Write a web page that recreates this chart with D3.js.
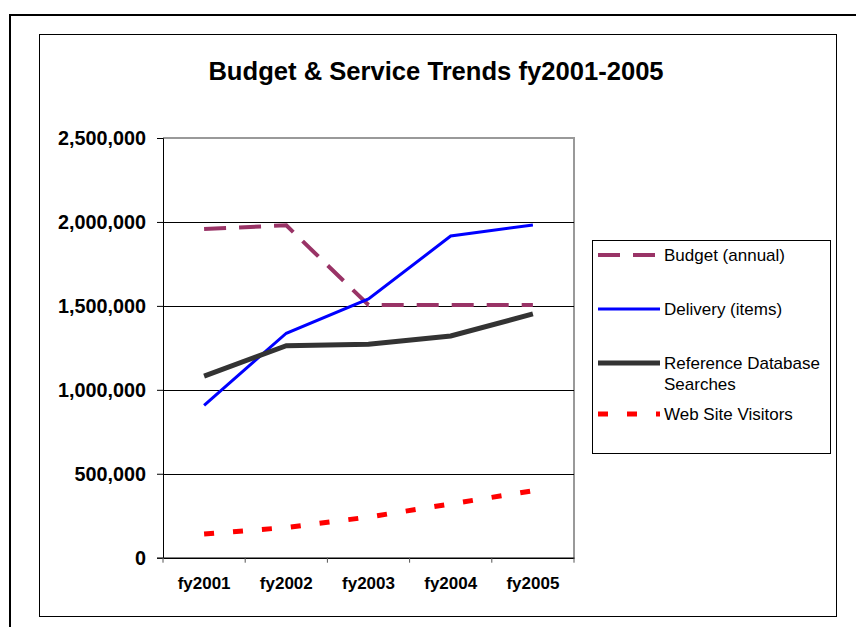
<!DOCTYPE html>
<html>
<head>
<meta charset="utf-8">
<script src="https://cdn.jsdelivr.net/npm/d3@7"></script>
<style>
  body { margin: 0; background: #fff; }
  svg { display: block; font-family: Arial, "Liberation Sans", sans-serif; }
</style>
</head>
<body>
<div id="chart"></div>
<script>
// data
const years = ["fy2001", "fy2002", "fy2003", "fy2004", "fy2005"];
const budget = [1958000, 1980000, 1505000, 1505000, 1505000];
const delivery = [908000, 1337000, 1541000, 1916000, 1982000];
const refSearches = [1082000, 1263000, 1271000, 1321000, 1452000];
const webVisitors = [141000, 180000, 242000, 320000, 399000];
const yTicks = [0, 500000, 1000000, 1500000, 2000000, 2500000];

const series = [
  { name: ["Budget (annual)"], values: budget, color: "#993366", width: 4, dash: "22,13" },
  { name: ["Delivery (items)"], values: delivery, color: "#0000ff", width: 3, dash: null },
  { name: ["Reference Database", "Searches"], values: refSearches, color: "#333333", width: 5, dash: null },
  { name: ["Web Site Visitors"], values: webVisitors, color: "#ff0000", width: 5, dash: "10,19" }
];

const W = 856, H = 627;
const plot = { left: 163, right: 574, top: 138, bottom: 557.7 };

const svg = d3.select("#chart").append("svg")
  .attr("width", W).attr("height", H);

// outer frame (runs off the page on right and bottom)
svg.append("rect")
  .attr("x", 10).attr("y", 15).attr("width", 900).attr("height", 700)
  .attr("fill", "none").attr("stroke", "#000").attr("stroke-width", 2);

// chart area frame
svg.append("rect")
  .attr("x", 39.5).attr("y", 34.5).attr("width", 797).attr("height", 582)
  .attr("fill", "#fff").attr("stroke", "#000").attr("stroke-width", 1);

svg.append("text")
  .attr("x", 436).attr("y", 80)
  .attr("text-anchor", "middle")
  .attr("font-size", "25.6px").attr("font-weight", "bold")
  .text("Budget & Service Trends fy2001-2005");

const x = d3.scaleBand().domain(years).range([plot.left, plot.right]).padding(0);
const y = d3.scaleLinear().domain([0, 2500000]).range([plot.bottom, plot.top]);
const cx = d => x(d) + x.bandwidth() / 2;

// plot border right/top
svg.append("path")
  .attr("d", `M${plot.left},${plot.top}H${plot.right}V${plot.bottom}`)
  .attr("fill", "none").attr("stroke", "#999").attr("stroke-width", 2);

// gridlines
svg.append("g")
  .selectAll("line")
  .data(yTicks.slice(1, -1))
  .join("line")
  .attr("x1", plot.left).attr("x2", plot.right)
  .attr("y1", d => Math.round(y(d)) + 0.5).attr("y2", d => Math.round(y(d)) + 0.5)
  .attr("stroke", "#000").attr("stroke-width", 1);

// y axis
const yAxis = svg.append("g")
  .attr("transform", `translate(${plot.left},0)`)
  .call(d3.axisLeft(y).tickValues(yTicks).tickSize(6).tickPadding(11)
    .tickFormat(d3.format(",")));
yAxis.select(".domain").attr("stroke", "#000");
yAxis.selectAll("text")
  .attr("font-size", "19.8px").attr("font-weight", "bold").attr("fill", "#000")
  .attr("font-family", "Arial, 'Liberation Sans', sans-serif");

// x axis with ticks between categories
const xAxis = svg.append("g")
  .attr("transform", `translate(0,${plot.bottom})`)
  .call(d3.axisBottom(x).tickSize(0).tickPadding(19));
xAxis.select(".domain").attr("stroke", "#000").attr("stroke-width", 1.5);
xAxis.selectAll("text")
  .attr("font-size", "17px").attr("font-weight", "bold").attr("fill", "#000")
  .attr("font-family", "Arial, 'Liberation Sans', sans-serif");
svg.append("g")
  .selectAll("line")
  .data(years.concat(["end"]))
  .join("line")
  .attr("x1", (d, i) => plot.left + i * x.bandwidth())
  .attr("x2", (d, i) => plot.left + i * x.bandwidth())
  .attr("y1", plot.bottom).attr("y2", plot.bottom + 5)
  .attr("stroke", "#555");

// series lines
const line = d3.line().x((d, i) => cx(years[i])).y(d => y(d));
svg.append("g")
  .selectAll("path")
  .data(series)
  .join("path")
  .attr("d", s => line(s.values))
  .attr("fill", "none")
  .attr("stroke", s => s.color)
  .attr("stroke-width", s => s.width)
  .attr("stroke-dasharray", s => s.dash)
  .attr("stroke-linejoin", "miter");

// legend
const legendX = 592.5, legendY = 240.5;
svg.append("rect")
  .attr("x", legendX).attr("y", legendY).attr("width", 238).attr("height", 213)
  .attr("fill", "#fff").attr("stroke", "#000");

const rowY = [255, 309, 363, 414];
const leg = svg.append("g").selectAll("g")
  .data(series)
  .join("g")
  .attr("transform", (d, i) => `translate(0,${rowY[i]})`);
leg.append("line")
  .attr("x1", 598).attr("x2", 660)
  .attr("stroke", s => s.color)
  .attr("stroke-width", s => s.width)
  .attr("stroke-dasharray", s => s.dash);
leg.append("text")
  .attr("x", 664)
  .attr("font-size", "17px")
  .attr("fill", "#000")
  .selectAll("tspan")
  .data(s => s.name)
  .join("tspan")
  .attr("x", 664)
  .attr("dy", (d, i) => i === 0 ? "0.35em" : "21px")
  .text(d => d);
</script>
</body>
</html>
